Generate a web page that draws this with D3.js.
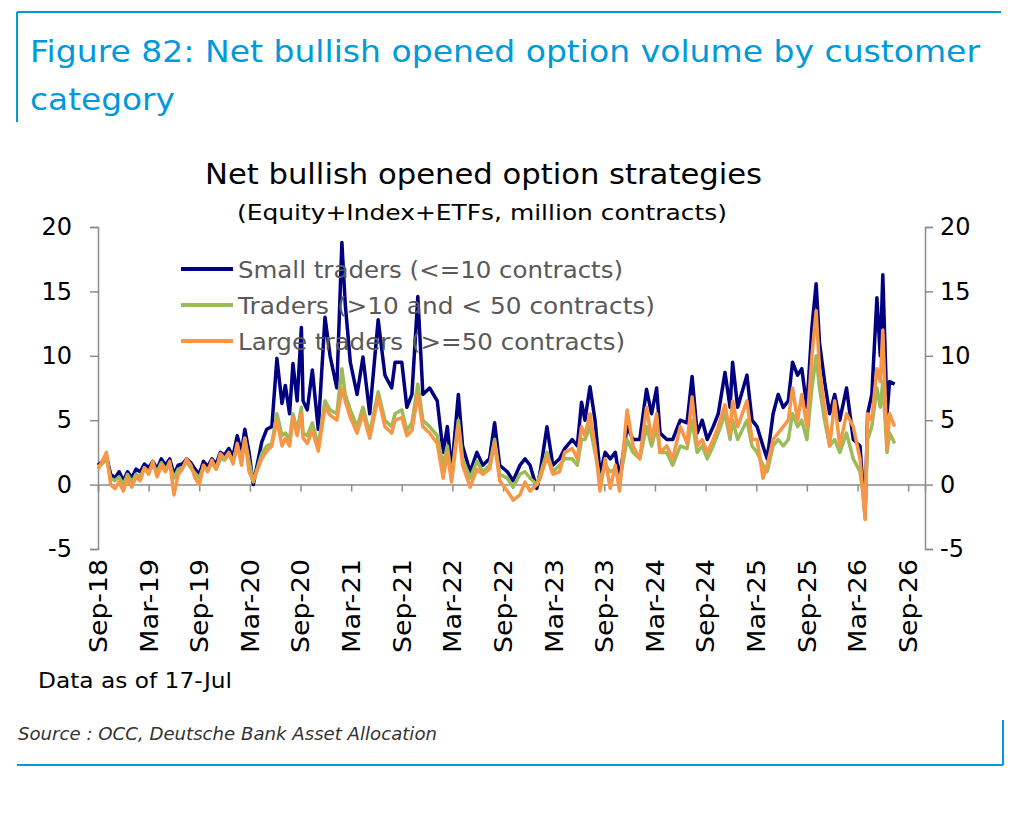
<!DOCTYPE html>
<html><head><meta charset="utf-8">
<script src="https://cdn.jsdelivr.net/npm/d3@7"></script>
<style>body{margin:0;background:#fff;font-family:"DejaVu Sans",sans-serif}</style>
</head><body><svg id="c" width="1020" height="824"></svg>
<script>
// months since Sep-2018
var months = [0,0.5,1,1.5,2,2.5,3,3.5,4,4.5,5,5.5,6,6.5,7,7.5,8,8.5,9,9.5,10,10.5,11,11.5,12,12.5,13,13.5,14,14.5,15,15.5,16,16.5,17,17.4,17.9,18.4,19.4,20.0,20.6,21.2,21.8,22.2,22.7,23.1,23.6,24.1,24.3,24.8,25.4,26.1,26.9,27.5,28.3,28.9,29.3,29.9,30.7,31.4,32.2,33.2,34.0,34.8,35.2,36.0,36.6,37.2,37.9,38.5,39.3,40.2,40.9,41.4,41.9,42.7,43.2,44.1,44.9,45.6,46.4,47.0,47.6,48.5,49.2,50.0,50.6,51.2,52.0,52.4,53.2,53.9,54.7,55.3,56.2,56.8,57.3,57.7,58.3,58.9,59.5,60.1,60.7,61.3,61.8,62.7,63.4,64.2,65.0,65.6,66.2,66.6,67.4,68.1,69.0,69.8,70.4,71.0,71.6,72.2,72.9,73.5,74.3,74.9,75.2,75.8,76.9,77.5,78.1,78.8,79.3,80.0,80.6,81.2,81.8,82.3,82.9,83.4,84.0,84.6,85.1,85.5,86.1,86.7,87.3,87.9,88.7,89.5,90.3,90.9,91.2,91.7,92.3,92.7,93.0,93.5,93.8,94.4];
var small = [1.5,1.8,2.2,0.8,0.5,1.0,0.3,1.0,0.5,1.2,1.0,1.6,1.3,1.8,1.2,2.0,1.5,2.0,0.8,1.5,1.6,2.0,1.7,1.2,0.8,1.8,1.4,2.0,1.6,2.5,2.3,2.8,2.2,3.8,2.5,4.3,2.5,0.0,3.3,4.3,4.5,9.8,6.3,7.7,5.5,9.4,6.5,12.2,6.5,5.8,8.9,4.3,13.0,10.0,7.5,18.8,14.0,9.5,7.0,9.9,5.5,12.8,8.5,7.5,9.5,9.5,6.0,7.0,14.6,7.0,7.5,6.5,2.5,4.5,1.0,7.0,3.0,1.0,2.5,1.5,2.0,4.8,1.5,1.0,0.3,1.5,2.0,1.5,-0.3,1.0,4.5,1.5,2.0,2.8,3.5,3.0,6.4,5.0,7.6,5.0,0.8,2.5,2.0,2.5,0.5,4.5,3.5,3.5,7.4,5.5,7.5,4.0,3.5,3.5,5.0,4.8,8.4,4.0,5.0,3.5,4.5,5.5,8.7,6.0,9.5,6.0,8.5,5.0,4.5,3.0,2.0,5.5,7.0,6.0,6.5,9.5,8.5,9.0,6.0,12.2,15.6,11.0,8.0,5.5,7.0,5.0,7.5,3.5,3.0,-2.5,5.5,7.0,14.5,10.0,16.3,5.5,8.0,7.8];
var medium = [1.4,1.6,2.0,0.5,0.3,0.6,0.0,0.8,0.2,0.8,0.6,1.3,1.0,1.5,1.0,1.7,1.2,1.6,0.5,1.2,1.3,1.8,1.3,0.9,0.5,1.4,1.1,1.7,1.2,2.0,1.9,2.4,1.8,3.0,2.0,3.6,1.8,0.2,2.4,3.0,3.2,5.5,3.8,4.0,3.5,5.5,4.2,6.0,4.0,3.8,4.8,3.0,6.5,5.8,5.5,9.0,7.0,5.8,4.5,6.0,4.0,7.2,5.0,4.5,5.5,5.8,4.2,4.8,7.8,5.0,4.5,3.8,1.5,3.0,0.5,5.0,2.0,0.5,1.8,1.0,1.5,3.5,0.8,0.5,-0.2,0.8,1.0,0.5,0.0,0.8,2.5,1.0,1.5,2.0,2.0,1.5,3.5,3.5,4.5,2.5,0.3,1.5,1.0,1.2,0.2,3.5,2.5,2.0,4.5,3.0,4.5,2.5,2.5,1.5,3.0,2.8,5.0,2.5,3.0,2.0,3.0,4.0,5.5,3.5,5.0,3.5,5.0,3.0,2.5,1.5,1.0,3.0,3.5,3.0,3.5,5.5,4.5,5.0,3.5,7.5,10.0,7.5,5.0,3.0,3.5,2.5,4.0,2.0,1.0,-2.0,3.5,4.5,7.5,6.0,8.0,2.5,4.0,3.2];
var large = [1.2,1.8,2.5,0.0,-0.3,0.2,-0.5,0.5,-0.2,0.6,0.3,1.3,0.8,1.8,0.6,1.5,1.0,1.8,-0.8,0.8,1.2,2.0,1.5,0.5,0.0,1.5,1.0,1.9,1.2,2.4,2.0,2.5,1.6,3.2,1.5,3.6,1.0,0.3,2.0,2.6,3.0,5.0,3.0,3.6,3.0,5.2,3.8,5.5,3.6,3.2,4.2,2.6,6.0,5.4,5.0,7.5,6.5,5.2,4.0,5.5,3.6,6.8,4.5,4.0,5.0,5.2,3.8,4.2,7.0,4.5,4.0,3.2,0.5,2.5,0.2,4.6,1.5,-0.2,1.2,0.8,1.2,3.2,0.3,-0.5,-1.2,-0.8,0.2,-0.5,0.0,0.5,2.2,0.8,1.0,2.5,2.8,2.0,4.5,3.8,5.5,3.0,-0.5,2.0,-0.3,1.5,-0.5,5.8,3.0,2.0,6.0,3.5,5.5,2.5,3.0,2.0,4.5,3.2,6.8,3.0,3.5,2.5,3.5,4.5,6.2,4.0,6.5,4.5,6.5,3.5,3.5,0.5,1.5,3.5,4.0,4.5,5.0,7.5,5.0,7.0,4.5,10.0,13.5,9.0,6.0,3.0,6.5,3.0,5.5,4.5,2.0,-2.7,5.5,5.0,9.0,8.0,12.0,2.8,5.5,4.5];
var series = [
  {name: "Small traders (<=10 contracts)", color: "#000080", values: small, w: 385},
  {name: "Traders (>10 and < 50 contracts)", color: "#9BBB59", values: medium, w: 417},
  {name: "Large traders (>=50 contracts)", color: "#F79646", values: large, w: 387}
];
var tickLabels = ["Sep-18","Mar-19","Sep-19","Mar-20","Sep-20","Mar-21","Sep-21","Mar-22","Sep-22","Mar-23","Sep-23","Mar-24","Sep-24","Mar-25","Sep-25","Mar-26","Sep-26"];
var yTicks = [-5,0,5,10,15,20];

var svg = d3.select("#c");
var blue = "#0099da";

function txt(xp, yp, s, size, w) {
  var t = svg.append("text").attr("x",xp).attr("y",yp).style("font-size",size+"px").text(s);
  if (w) t.attr("textLength",w).attr("lengthAdjust","spacingAndGlyphs");
  return t;
}

// frame
svg.append("line").attr("x1",17).attr("x2",1001).attr("y1",12).attr("y2",12).attr("stroke",blue).attr("stroke-width",2);
svg.append("line").attr("x1",17).attr("x2",17).attr("y1",12).attr("y2",122).attr("stroke",blue).attr("stroke-width",2);
svg.append("line").attr("x1",17).attr("x2",1003).attr("y1",765).attr("y2",765).attr("stroke",blue).attr("stroke-width",2);
svg.append("line").attr("x1",1003).attr("x2",1003).attr("y1",720).attr("y2",765).attr("stroke",blue).attr("stroke-width",2);
txt(30,62,"Figure 82: Net bullish opened option volume by customer",30,950).attr("fill",blue);
txt(30,110,"category",30,145).attr("fill",blue);

txt(205,184,"Net bullish opened option strategies",29,557);
txt(237,220,"(Equity+Index+ETFs, million contracts)",22,490);

var x = d3.scaleLinear().domain([0,98]).range([98,925]);
var y = d3.scaleLinear().domain([-5,20]).range([549,227]);

var gray = "#8c8c8c";
var fmt = function(d){ return String(d); };
var left = svg.append("g").attr("transform","translate(98,0)").call(d3.axisLeft(y).tickValues(yTicks).tickSize(8).tickPadding(18).tickFormat(fmt));
var right = svg.append("g").attr("transform","translate(925,0)").call(d3.axisRight(y).tickValues(yTicks).tickSize(8).tickPadding(7).tickFormat(fmt));
var bottom = svg.append("g").attr("transform","translate(0,"+y(0)+")")
  .call(d3.axisBottom(x).tickValues(d3.range(0,97,6)).tickSize(7).tickFormat(function(d,i){return tickLabels[i];}));
[left,right,bottom].forEach(function(g){
  g.select(".domain").attr("stroke",gray).attr("stroke-width",1.5);
  g.selectAll(".tick line").attr("stroke",gray).attr("stroke-width",1.5);
  g.selectAll("text").style("font-size","24px").style("font-family","DejaVu Sans, sans-serif").attr("fill","#000");
});
bottom.selectAll("text").attr("transform","translate(0,"+(y(-5)-y(0))+") rotate(-90)")
  .attr("text-anchor","end").attr("x",-10).attr("y",0).attr("dy","0.35em")
  .attr("textLength",94).attr("lengthAdjust","spacingAndGlyphs");

var line = d3.line().x(function(d,i){return x(months[i]);}).y(function(d){return y(d);});
series.forEach(function(s){
  svg.append("path").datum(s.values).attr("d",line).attr("fill","none")
    .attr("stroke",s.color).attr("stroke-width",3.5).attr("stroke-linejoin","round");
});

// legend
series.forEach(function(s,i){
  var ly = 269 + i*36;
  svg.append("line").attr("x1",181).attr("x2",233).attr("y1",ly).attr("y2",ly).attr("stroke",s.color).attr("stroke-width",4);
  txt(238,ly+9,s.name,23,s.w).attr("fill","#595959");
});

txt(38,688,"Data as of 17-Jul",22,194);
txt(18,740,"Source : OCC, Deutsche Bank Asset Allocation",17,419).attr("fill","#333").style("font-style","italic");
</script></body></html>
